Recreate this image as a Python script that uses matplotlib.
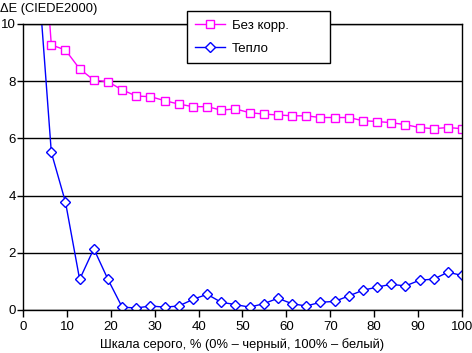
import matplotlib.pyplot as plt
import numpy as np

plt.rcParams['font.family'] = ['Liberation Sans', 'DejaVu Sans']

# grey level, % (32 steps)
x = np.linspace(0, 100, 32)
no_corr = [20.0, 16.0, 9.27, 9.09, 8.43, 8.04, 7.98, 7.70, 7.48, 7.46, 7.32,
           7.20, 7.11, 7.11, 6.99, 7.03, 6.90, 6.85, 6.82, 6.79, 6.79, 6.73,
           6.73, 6.73, 6.62, 6.59, 6.55, 6.48, 6.38, 6.34, 6.38, 6.34]
warm = [20.0, 12.2, 5.51, 3.77, 1.07, 2.14, 1.07, 0.10, 0.07, 0.14, 0.10,
        0.14, 0.37, 0.55, 0.27, 0.19, 0.10, 0.22, 0.41, 0.22, 0.14, 0.27,
        0.30, 0.49, 0.69, 0.80, 0.90, 0.84, 1.04, 1.08, 1.32, 1.21]
labels = ['Без корр.', 'Тепло']
xticks = list(range(0, 101, 10))
yticks = list(range(0, 11, 2))

fig = plt.figure(figsize=(4.72, 3.53), dpi=100)
ax = fig.add_axes([23/472, 43/353, 439/472, 286/353])

ax.plot(x, no_corr, color='#FF00FF', lw=1, marker='s', ms=5.2,
        mfc='white', mec='#FF00FF', mew=1, label=labels[0])
ax.plot(x, warm, color='#0000FF', lw=1, marker='D', ms=5.5,
        mfc='white', mec='#0000FF', mew=1, label=labels[1])

ax.set_xlim(0, 100)
ax.set_ylim(0, 10)
ax.set_xticks(xticks)
ax.set_yticks(yticks)
ax.tick_params(direction='out', width=1, labelsize=9.5, colors='black')
ax.tick_params(axis='x', length=5, pad=3)
ax.tick_params(axis='y', length=4, pad=1)
ax.yaxis.grid(True, color='black', lw=1)
ax.set_axisbelow(True)
for s in ax.spines.values():
    s.set_color('black')
    s.set_linewidth(1)

fig.text(0.0, 1 - 9/353, 'ΔE (CIEDE2000)', ha='left', va='center', fontsize=9.3)
fig.text(242/472, 1 - 345/353, 'Шкала серого, % (0% – черный, 100% – белый)',
         ha='center', va='center', fontsize=9.3)

leg = fig.legend(loc='lower left', bbox_to_anchor=(187/472, 1 - 63/353, 143/472, 52/353),
                 mode='expand', borderaxespad=0, fontsize=9.5, frameon=True,
                 fancybox=False, edgecolor='black', framealpha=1,
                 handlelength=2.3, handletextpad=0.5, labelspacing=0.85, borderpad=0.6)
leg.get_frame().set_linewidth(1)

fig.savefig('out.png', dpi=100)
